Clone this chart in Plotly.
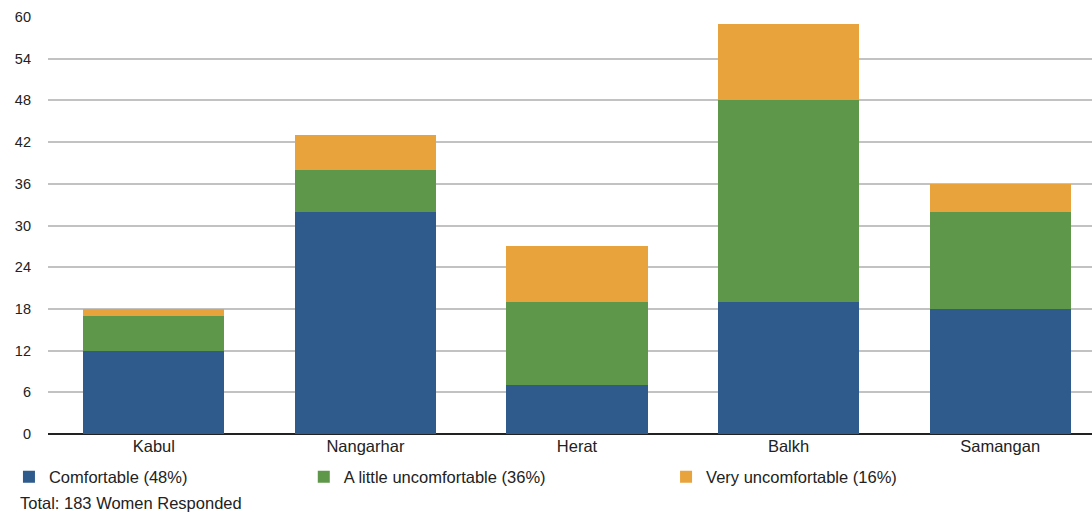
import plotly.graph_objects as go

provinces = ["Kabul", "Nangarhar", "Herat", "Balkh", "Samangan"]
comfortable = [12, 32, 7, 19, 18]
little_uncomfortable = [5, 6, 12, 29, 14]
very_uncomfortable = [1, 5, 8, 11, 4]

series_names = ["Comfortable (48%)", "A little uncomfortable (36%)", "Very uncomfortable (16%)"]
series_colors = ["#2e5a8c", "#5e974a", "#e8a33d"]
y_ticks = [0, 6, 12, 18, 24, 30, 36, 42, 48, 54, 60]

FONT = "Liberation Sans, Arial, Helvetica, sans-serif"

fig = go.Figure()
for i, (name, vals, color) in enumerate(zip(series_names,
                                            [comfortable, little_uncomfortable, very_uncomfortable],
                                            series_colors)):
    fig.add_trace(go.Bar(
        x=provinces, y=vals, name=name,
        marker=dict(color=color, line=dict(width=0)),
        legend="legend" if i == 0 else f"legend{i + 1}",
        showlegend=True,
    ))

legend_common = dict(
    orientation="h", yanchor="middle", xanchor="left", y=-0.103,
    font=dict(family=FONT, size=16.5, color="#222"),
    bgcolor="rgba(0,0,0,0)", itemsizing="constant",
)

fig.update_layout(
    barmode="stack",
    bargap=0.333,
    width=1092, height=512,
    showlegend=True,
    margin=dict(l=48, r=0, t=17, b=78, autoexpand=False),
    plot_bgcolor="white", paper_bgcolor="white",
    font=dict(family=FONT, color="#222"),
    legend=dict(x=-0.0374, **legend_common),
    legend2=dict(x=0.245, **legend_common),
    legend3=dict(x=0.592, **legend_common),
    xaxis=dict(
        range=[-0.5, 4.434], showgrid=False, showline=False, ticks="",
        tickfont=dict(family=FONT, size=16.5, color="#222"),
    ),
    yaxis=dict(
        range=[0, 60], tickvals=y_ticks, showgrid=True,
        gridcolor="#c2c2c2", gridwidth=1.5,
        zeroline=True, zerolinecolor="#222", zerolinewidth=1.5,
        showline=False, ticks="", ticklabelstandoff=16,
        tickfont=dict(family=FONT, size=14.5, color="#222"),
    ),
    annotations=[dict(
        text="Total: 183 Women Responded", xref="paper", yref="paper",
        x=-0.0287, y=-0.166, xanchor="left", yanchor="middle", showarrow=False,
        font=dict(family=FONT, size=16.5, color="#222"),
    )],
)

fig.write_html("out.html")
